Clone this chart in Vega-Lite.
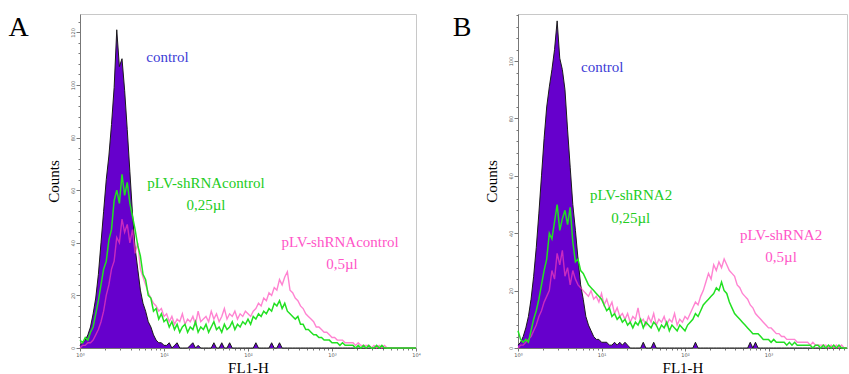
{
  "$schema": "https://vega.github.io/schema/vega-lite/v6.json",
  "padding": {"left": 8, "top": 13, "right": 0, "bottom": 0},
  "spacing": 31,
  "config": {
    "view": {"stroke": "#c8c8c8"},
    "axis": {
      "grid": false,
      "domainColor": "#777",
      "tickColor": "#777",
      "labelFont": "DejaVu Sans",
      "labelFontSize": 5,
      "labelColor": "#555",
      "labelOverlap": false,
      "labelFlush": false,
      "labelPadding": 1,
      "titleFont": "Liberation Serif",
      "titleFontSize": 15,
      "titleFontWeight": "normal",
      "titleColor": "#000"
    },
    "title": {"font": "Liberation Serif", "fontSize": 28, "fontWeight": "normal", "color": "#000"}
  },
  "datasets": {
    "a": [
      {"x":1,"c":1,"g":3,"p":0},{"x":1.0746,"c":2,"g":2,"p":1},{"x":1.1548,"c":3,"g":4,"p":1},{"x":1.2409,"c":5,"g":3,"p":2},
      {"x":1.3335,"c":8,"g":6,"p":2},{"x":1.433,"c":13,"g":8,"p":3},{"x":1.5399,"c":19,"g":13,"p":5},{"x":1.6548,"c":28,"g":18,"p":7},
      {"x":1.7783,"c":40,"g":24,"p":10},{"x":1.911,"c":52,"g":30,"p":14},{"x":2.0535,"c":64,"g":33,"p":20},{"x":2.2067,"c":73,"g":41,"p":24},
      {"x":2.3714,"c":85,"g":45,"p":30},{"x":2.5483,"c":99,"g":56,"p":33},{"x":2.7384,"c":121,"g":60,"p":42},{"x":2.9427,"c":107,"g":55,"p":40},
      {"x":3.1623,"c":110,"g":66,"p":49},{"x":3.3982,"c":98,"g":58,"p":44},{"x":3.6517,"c":83,"g":63,"p":47},{"x":3.9242,"c":67,"g":55,"p":40},
      {"x":4.217,"c":51,"g":50,"p":45},{"x":4.5316,"c":38,"g":45,"p":36},{"x":4.8697,"c":30,"g":39,"p":40},{"x":5.233,"c":22,"g":35,"p":30},
      {"x":5.6234,"c":17,"g":28,"p":27},{"x":6.043,"c":14,"g":26,"p":24},{"x":6.4938,"c":10,"g":20,"p":21},{"x":6.9783,"c":8,"g":19,"p":19},
      {"x":7.4989,"c":5,"g":14,"p":17},{"x":8.0584,"c":3,"g":15,"p":16},{"x":8.6596,"c":2,"g":11,"p":14},{"x":9.3057,"c":2,"g":13,"p":15},
      {"x":10,"c":1,"g":10,"p":12},{"x":10.746,"c":1,"g":11,"p":13},{"x":11.548,"c":2,"g":8,"p":10},{"x":12.409,"c":0,"g":10,"p":12},
      {"x":13.335,"c":1,"g":7,"p":9},{"x":14.33,"c":2,"g":9,"p":11},{"x":15.399,"c":0,"g":6,"p":10},{"x":16.548,"c":0,"g":8,"p":13},
      {"x":17.783,"c":0,"g":9,"p":9},{"x":19.11,"c":0,"g":6,"p":11},{"x":20.535,"c":1,"g":8,"p":10},{"x":22.067,"c":2,"g":7,"p":12},
      {"x":23.714,"c":0,"g":10,"p":9},{"x":25.483,"c":1,"g":6,"p":14},{"x":27.384,"c":0,"g":8,"p":10},{"x":29.427,"c":0,"g":7,"p":11},
      {"x":31.623,"c":0,"g":9,"p":12},{"x":33.982,"c":0,"g":6,"p":10},{"x":36.517,"c":0,"g":8,"p":14},{"x":39.242,"c":2,"g":10,"p":11},
      {"x":42.17,"c":0,"g":7,"p":13},{"x":45.316,"c":0,"g":8,"p":10},{"x":48.697,"c":2,"g":6,"p":12},{"x":52.33,"c":0,"g":9,"p":15},
      {"x":56.234,"c":0,"g":7,"p":11},{"x":60.43,"c":2,"g":8,"p":13},{"x":64.938,"c":0,"g":10,"p":12},{"x":69.783,"c":0,"g":7,"p":14},
      {"x":74.989,"c":0,"g":9,"p":11},{"x":80.584,"c":0,"g":8,"p":13},{"x":86.596,"c":0,"g":10,"p":12},{"x":93.057,"c":0,"g":9,"p":14},
      {"x":100,"c":0,"g":11,"p":13},{"x":107.46,"c":0,"g":9,"p":12},{"x":115.48,"c":0,"g":12,"p":14},{"x":124.09,"c":2,"g":11,"p":15},
      {"x":133.35,"c":0,"g":13,"p":17},{"x":143.3,"c":0,"g":12,"p":16},{"x":153.99,"c":0,"g":14,"p":19},{"x":165.48,"c":0,"g":13,"p":18},
      {"x":177.83,"c":0,"g":15,"p":21},{"x":191.1,"c":2,"g":14,"p":20},{"x":205.35,"c":0,"g":17,"p":23},{"x":220.67,"c":0,"g":16,"p":22},
      {"x":237.14,"c":2,"g":18,"p":26},{"x":254.83,"c":0,"g":15,"p":24},{"x":273.84,"c":0,"g":17,"p":27},{"x":294.27,"c":0,"g":14,"p":29},
      {"x":316.23,"c":0,"g":13,"p":22},{"x":339.82,"c":0,"g":12,"p":21},{"x":365.17,"c":0,"g":11,"p":19},{"x":392.42,"c":0,"g":12,"p":18},
      {"x":421.7,"c":0,"g":9,"p":16},{"x":453.16,"c":0,"g":9,"p":15},{"x":486.97,"c":0,"g":7,"p":13},{"x":523.3,"c":0,"g":7,"p":12},
      {"x":562.34,"c":0,"g":6,"p":11},{"x":604.3,"c":0,"g":5,"p":10},{"x":649.38,"c":0,"g":5,"p":8},{"x":697.83,"c":0,"g":4,"p":8},
      {"x":749.89,"c":0,"g":4,"p":7},{"x":805.84,"c":0,"g":3,"p":6},{"x":865.96,"c":0,"g":3,"p":6},{"x":930.57,"c":0,"g":3,"p":5},
      {"x":1000,"c":0,"g":2,"p":4},{"x":1074.6,"c":0,"g":2,"p":4},{"x":1154.8,"c":0,"g":2,"p":3},{"x":1240.9,"c":0,"g":1,"p":3},
      {"x":1333.5,"c":0,"g":2,"p":3},{"x":1433,"c":0,"g":1,"p":2},{"x":1539.9,"c":0,"g":1,"p":2},{"x":1654.8,"c":0,"g":1,"p":2},
      {"x":1778.3,"c":0,"g":1,"p":2},{"x":1911,"c":0,"g":0,"p":1},{"x":2053.5,"c":0,"g":1,"p":2},{"x":2206.7,"c":0,"g":0,"p":1},
      {"x":2371.4,"c":0,"g":1,"p":1},{"x":2548.3,"c":0,"g":0,"p":1},{"x":2738.4,"c":0,"g":1,"p":1},{"x":2942.7,"c":0,"g":0,"p":0},
      {"x":3162.3,"c":0,"g":0,"p":1},{"x":3398.2,"c":0,"g":1,"p":0},{"x":3651.7,"c":0,"g":0,"p":1},{"x":3924.2,"c":0,"g":1,"p":0},
      {"x":4217,"c":0,"g":0,"p":1},{"x":4531.6,"c":0,"g":0,"p":0},{"x":4869.7,"c":0,"g":0,"p":0},{"x":5233,"c":0,"g":0,"p":0},
      {"x":5623.4,"c":0,"g":0,"p":0},{"x":6043,"c":0,"g":0,"p":0},{"x":6493.8,"c":0,"g":0,"p":0},{"x":6978.3,"c":0,"g":0,"p":0},
      {"x":7498.9,"c":0,"g":0,"p":0},{"x":8058.4,"c":0,"g":0,"p":0},{"x":8659.6,"c":0,"g":0,"p":0},{"x":9305.7,"c":0,"g":0,"p":0},
      {"x":10000,"c":0,"g":0,"p":0}
    ],
    "b": [
      {"x":1,"c":1,"g":6,"p":0},{"x":1.0746,"c":2,"g":3,"p":1},{"x":1.1548,"c":4,"g":2,"p":1},{"x":1.2409,"c":7,"g":3,"p":2},
      {"x":1.3335,"c":11,"g":2,"p":3},{"x":1.433,"c":17,"g":6,"p":4},{"x":1.5399,"c":25,"g":10,"p":6},{"x":1.6548,"c":35,"g":13,"p":8},
      {"x":1.7783,"c":47,"g":17,"p":11},{"x":1.911,"c":60,"g":22,"p":13},{"x":2.0535,"c":73,"g":27,"p":16},{"x":2.2067,"c":84,"g":31,"p":18},
      {"x":2.3714,"c":91,"g":40,"p":20},{"x":2.5483,"c":97,"g":38,"p":27},{"x":2.7384,"c":104,"g":44,"p":24},{"x":2.9427,"c":114,"g":50,"p":33},
      {"x":3.1623,"c":101,"g":41,"p":29},{"x":3.3982,"c":97,"g":45,"p":34},{"x":3.6517,"c":90,"g":48,"p":25},{"x":3.9242,"c":76,"g":43,"p":28},
      {"x":4.217,"c":63,"g":49,"p":22},{"x":4.5316,"c":50,"g":37,"p":27},{"x":4.8697,"c":41,"g":30,"p":24},{"x":5.233,"c":31,"g":31,"p":22},
      {"x":5.6234,"c":22,"g":27,"p":21},{"x":6.043,"c":17,"g":26,"p":20},{"x":6.4938,"c":11,"g":24,"p":19},{"x":6.9783,"c":8,"g":22,"p":18},
      {"x":7.4989,"c":6,"g":21,"p":20},{"x":8.0584,"c":4,"g":20,"p":17},{"x":8.6596,"c":3,"g":19,"p":18},{"x":9.3057,"c":3,"g":18,"p":16},
      {"x":10,"c":2,"g":17,"p":19},{"x":10.746,"c":2,"g":15,"p":15},{"x":11.548,"c":2,"g":13,"p":17},{"x":12.409,"c":1,"g":14,"p":14},
      {"x":13.335,"c":1,"g":11,"p":16},{"x":14.33,"c":2,"g":12,"p":12},{"x":15.399,"c":1,"g":10,"p":14},{"x":16.548,"c":2,"g":11,"p":11},
      {"x":17.783,"c":1,"g":9,"p":12},{"x":19.11,"c":2,"g":10,"p":10},{"x":20.535,"c":1,"g":8,"p":12},{"x":22.067,"c":0,"g":9,"p":9},
      {"x":23.714,"c":0,"g":7,"p":11},{"x":25.483,"c":0,"g":9,"p":10},{"x":27.384,"c":0,"g":8,"p":14},{"x":29.427,"c":0,"g":10,"p":9},
      {"x":31.623,"c":2,"g":7,"p":10},{"x":33.982,"c":0,"g":9,"p":8},{"x":36.517,"c":0,"g":8,"p":11},{"x":39.242,"c":0,"g":7,"p":9},
      {"x":42.17,"c":2,"g":9,"p":12},{"x":45.316,"c":0,"g":8,"p":8},{"x":48.697,"c":0,"g":6,"p":10},{"x":52.33,"c":0,"g":8,"p":9},
      {"x":56.234,"c":0,"g":7,"p":11},{"x":60.43,"c":0,"g":9,"p":8},{"x":64.938,"c":0,"g":6,"p":10},{"x":69.783,"c":0,"g":8,"p":9},
      {"x":74.989,"c":0,"g":7,"p":12},{"x":80.584,"c":0,"g":6,"p":8},{"x":86.596,"c":0,"g":8,"p":10},{"x":93.057,"c":0,"g":7,"p":9},
      {"x":100,"c":0,"g":6,"p":11},{"x":107.46,"c":0,"g":8,"p":10},{"x":115.48,"c":0,"g":9,"p":12},{"x":124.09,"c":0,"g":10,"p":14},
      {"x":133.35,"c":2,"g":12,"p":16},{"x":143.3,"c":0,"g":11,"p":15},{"x":153.99,"c":0,"g":13,"p":18},{"x":165.48,"c":0,"g":15,"p":20},
      {"x":177.83,"c":0,"g":16,"p":23},{"x":191.1,"c":0,"g":17,"p":26},{"x":205.35,"c":0,"g":18,"p":24},{"x":220.67,"c":0,"g":19,"p":29},
      {"x":237.14,"c":0,"g":21,"p":27},{"x":254.83,"c":0,"g":20,"p":30},{"x":273.84,"c":0,"g":23,"p":28},{"x":294.27,"c":0,"g":20,"p":31},
      {"x":316.23,"c":0,"g":19,"p":29},{"x":339.82,"c":0,"g":16,"p":27},{"x":365.17,"c":0,"g":14,"p":26},{"x":392.42,"c":0,"g":12,"p":25},
      {"x":421.7,"c":0,"g":11,"p":22},{"x":453.16,"c":0,"g":10,"p":21},{"x":486.97,"c":0,"g":9,"p":19},{"x":523.3,"c":0,"g":8,"p":18},
      {"x":562.34,"c":0,"g":7,"p":17},{"x":604.3,"c":2,"g":6,"p":15},{"x":649.38,"c":0,"g":5,"p":14},{"x":697.83,"c":2,"g":5,"p":12},
      {"x":749.89,"c":0,"g":5,"p":11},{"x":805.84,"c":0,"g":4,"p":10},{"x":865.96,"c":0,"g":3,"p":9},{"x":930.57,"c":0,"g":3,"p":8},
      {"x":1000,"c":0,"g":3,"p":7},{"x":1074.6,"c":0,"g":2,"p":7},{"x":1154.8,"c":0,"g":3,"p":6},{"x":1240.9,"c":0,"g":2,"p":5},
      {"x":1333.5,"c":0,"g":2,"p":5},{"x":1433,"c":0,"g":2,"p":4},{"x":1539.9,"c":0,"g":2,"p":4},{"x":1654.8,"c":0,"g":1,"p":3},
      {"x":1778.3,"c":0,"g":2,"p":3},{"x":1911,"c":0,"g":1,"p":3},{"x":2053.5,"c":0,"g":2,"p":3},{"x":2206.7,"c":0,"g":1,"p":2},
      {"x":2371.4,"c":0,"g":1,"p":2},{"x":2548.3,"c":0,"g":1,"p":2},{"x":2738.4,"c":0,"g":1,"p":2},{"x":2942.7,"c":0,"g":1,"p":2},
      {"x":3162.3,"c":0,"g":1,"p":1},{"x":3398.2,"c":0,"g":0,"p":2},{"x":3651.7,"c":0,"g":1,"p":1},{"x":3924.2,"c":0,"g":1,"p":1},
      {"x":4217,"c":0,"g":0,"p":1},{"x":4531.6,"c":0,"g":1,"p":1},{"x":4869.7,"c":0,"g":0,"p":1},{"x":5233,"c":0,"g":1,"p":0},
      {"x":5623.4,"c":0,"g":0,"p":1},{"x":6043,"c":0,"g":1,"p":0},{"x":6493.8,"c":0,"g":0,"p":1},{"x":6978.3,"c":0,"g":1,"p":0},
      {"x":7498.9,"c":0,"g":0,"p":1},{"x":8058.4,"c":0,"g":0,"p":0},{"x":8659.6,"c":0,"g":0,"p":0}
    ],
    "la": [
      {"x":11.0,"y":110.6,"t":"control","s":"control"},
      {"x":31.6,"y":62.7,"t":"pLV-shRNAcontrol","s":"g"},
      {"x":31.6,"y":54.4,"t":"0,25µl","s":"g"},
      {"x":1245,"y":40.3,"t":"pLV-shRNAcontrol","s":"p"},
      {"x":1315,"y":31.9,"t":"0,5µl","s":"p"}
    ],
    "lb": [
      {"x":10.2,"y":97.9,"t":"control","s":"control"},
      {"x":22.6,"y":53.3,"t":"pLV-shRNA2","s":"g"},
      {"x":22.4,"y":45.3,"t":"0,25µl","s":"g"},
      {"x":1413,"y":39.4,"t":"pLV-shRNA2","s":"p"},
      {"x":1413,"y":31.7,"t":"0,5µl","s":"p"}
    ]
  },
  "hconcat": [
    {
      "width": 336,
      "height": 334,
      "title": {"text": "A", "orient": "left", "anchor": "end", "frame": "group", "angle": 0, "align": "right", "baseline": "top", "offset": -3},
      "data": {"name": "a"},
      "encoding": {
        "x": {
          "field": "x", "type": "quantitative", "title": "FL1-H",
          "scale": {"type": "log", "domain": [1, 10000], "nice": false},
          "axis": {
            "values": [1,2,3,4,5,6,7,8,9,10,20,30,40,50,60,70,80,90,100,200,300,400,500,600,700,800,900,1000,2000,3000,4000,5000,6000,7000,8000,9000,10000],
            "labelExpr": "datum.value == 1 ? '10⁰' : datum.value == 10 ? '10¹' : datum.value == 100 ? '10²' : datum.value == 1000 ? '10³' : datum.value == 10000 ? '10⁴' : ''",
            "tickSize": {"condition": {"test": "indexof([1,10,100,1000,10000], datum.value) >= 0", "value": 3}, "value": 2},
            "labelOverlap": false,
            "titlePadding": 3
          }
        }
      },
      "layer": [
        {"mark": {"type": "area", "color": "#6600cc", "opacity": 1},
         "encoding": {"y": {"field": "c", "type": "quantitative", "title": "Counts",
           "scale": {"domain": [0, 127], "nice": false},
           "axis": {"values": [0,4,8,12,16,20,24,28,32,36,40,44,48,52,56,60,64,68,72,76,80,84,88,92,96,100,104,108,112,116,120,124],
             "labelExpr": "datum.value % 20 == 0 ? datum.label : ''",
             "tickSize": {"condition": {"test": "datum.value % 20 == 0", "value": 4}, "value": 2},
             "labelAngle": -90, "labelOverlap": false, "titlePadding": 9}}}},
        {"mark": {"type": "line", "color": "#1a1a1a", "strokeWidth": 1},
         "encoding": {"y": {"field": "c", "type": "quantitative", "title": "Counts",
           "scale": {"domain": [0, 127], "nice": false},
           "axis": {"values": [0,4,8,12,16,20,24,28,32,36,40,44,48,52,56,60,64,68,72,76,80,84,88,92,96,100,104,108,112,116,120,124],
             "labelExpr": "datum.value % 20 == 0 ? datum.label : ''",
             "tickSize": {"condition": {"test": "datum.value % 20 == 0", "value": 4}, "value": 2},
             "labelAngle": -90, "labelOverlap": false, "titlePadding": 9}}}},
        {"mark": {"type": "line", "color": "#ff40b8", "opacity": 0.65, "strokeWidth": 1.4},
         "encoding": {"y": {"field": "p", "type": "quantitative", "title": "Counts",
           "scale": {"domain": [0, 127], "nice": false},
           "axis": {"values": [0,4,8,12,16,20,24,28,32,36,40,44,48,52,56,60,64,68,72,76,80,84,88,92,96,100,104,108,112,116,120,124],
             "labelExpr": "datum.value % 20 == 0 ? datum.label : ''",
             "tickSize": {"condition": {"test": "datum.value % 20 == 0", "value": 4}, "value": 2},
             "labelAngle": -90, "labelOverlap": false, "titlePadding": 9}}}},
        {"mark": {"type": "line", "color": "#22e022", "strokeWidth": 1.5},
         "encoding": {"y": {"field": "g", "type": "quantitative", "title": "Counts",
           "scale": {"domain": [0, 127], "nice": false},
           "axis": {"values": [0,4,8,12,16,20,24,28,32,36,40,44,48,52,56,60,64,68,72,76,80,84,88,92,96,100,104,108,112,116,120,124],
             "labelExpr": "datum.value % 20 == 0 ? datum.label : ''",
             "tickSize": {"condition": {"test": "datum.value % 20 == 0", "value": 4}, "value": 2},
             "labelAngle": -90, "labelOverlap": false, "titlePadding": 9}}}},
        {"data": {"name": "la"},
         "mark": {"type": "text", "font": "Liberation Serif", "fontSize": 15, "baseline": "middle", "align": "center"},
         "encoding": {
           "y": {"field": "y", "type": "quantitative", "title": "Counts",
             "scale": {"domain": [0, 127], "nice": false},
             "axis": {"values": [0,4,8,12,16,20,24,28,32,36,40,44,48,52,56,60,64,68,72,76,80,84,88,92,96,100,104,108,112,116,120,124],
               "labelExpr": "datum.value % 20 == 0 ? datum.label : ''",
               "tickSize": {"condition": {"test": "datum.value % 20 == 0", "value": 4}, "value": 2},
               "labelAngle": -90, "labelOverlap": false, "titlePadding": 9}},
           "text": {"field": "t"},
           "color": {"field": "s", "type": "nominal", "legend": null,
             "scale": {"domain": ["control", "g", "p"], "range": ["#3c3cd6", "#22cc22", "#ff55c8"]}}
         }}
      ]
    },
    {
      "width": 329,
      "height": 334,
      "title": {"text": "B", "orient": "left", "anchor": "end", "frame": "group", "angle": 0, "align": "right", "baseline": "top", "offset": -6},
      "data": {"name": "b"},
      "encoding": {
        "x": {
          "field": "x", "type": "quantitative", "title": "FL1-H",
          "scale": {"type": "log", "domain": [1, 8710], "nice": false},
          "axis": {
            "values": [1,2,3,4,5,6,7,8,9,10,20,30,40,50,60,70,80,90,100,200,300,400,500,600,700,800,900,1000,2000,3000,4000,5000,6000,7000,8000],
            "labelExpr": "datum.value == 1 ? '10⁰' : datum.value == 10 ? '10¹' : datum.value == 100 ? '10²' : datum.value == 1000 ? '10³' : ''",
            "tickSize": {"condition": {"test": "indexof([1,10,100,1000,10000], datum.value) >= 0", "value": 3}, "value": 2},
            "labelOverlap": false,
            "titlePadding": 3
          }
        }
      },
      "layer": [
        {"mark": {"type": "area", "color": "#6600cc", "opacity": 1},
         "encoding": {"y": {"field": "c", "type": "quantitative", "title": "Counts",
           "scale": {"domain": [0, 116.4], "nice": false},
           "axis": {"values": [0,4,8,12,16,20,24,28,32,36,40,44,48,52,56,60,64,68,72,76,80,84,88,92,96,100,104,108,112,116],
             "labelExpr": "datum.value % 20 == 0 ? datum.label : ''",
             "tickSize": {"condition": {"test": "datum.value % 20 == 0", "value": 4}, "value": 2},
             "labelAngle": -90, "labelOverlap": false, "titlePadding": 9}}}},
        {"mark": {"type": "line", "color": "#1a1a1a", "strokeWidth": 1},
         "encoding": {"y": {"field": "c", "type": "quantitative", "title": "Counts",
           "scale": {"domain": [0, 116.4], "nice": false},
           "axis": {"values": [0,4,8,12,16,20,24,28,32,36,40,44,48,52,56,60,64,68,72,76,80,84,88,92,96,100,104,108,112,116],
             "labelExpr": "datum.value % 20 == 0 ? datum.label : ''",
             "tickSize": {"condition": {"test": "datum.value % 20 == 0", "value": 4}, "value": 2},
             "labelAngle": -90, "labelOverlap": false, "titlePadding": 9}}}},
        {"mark": {"type": "line", "color": "#ff40b8", "opacity": 0.65, "strokeWidth": 1.4},
         "encoding": {"y": {"field": "p", "type": "quantitative", "title": "Counts",
           "scale": {"domain": [0, 116.4], "nice": false},
           "axis": {"values": [0,4,8,12,16,20,24,28,32,36,40,44,48,52,56,60,64,68,72,76,80,84,88,92,96,100,104,108,112,116],
             "labelExpr": "datum.value % 20 == 0 ? datum.label : ''",
             "tickSize": {"condition": {"test": "datum.value % 20 == 0", "value": 4}, "value": 2},
             "labelAngle": -90, "labelOverlap": false, "titlePadding": 9}}}},
        {"mark": {"type": "line", "color": "#22e022", "strokeWidth": 1.5},
         "encoding": {"y": {"field": "g", "type": "quantitative", "title": "Counts",
           "scale": {"domain": [0, 116.4], "nice": false},
           "axis": {"values": [0,4,8,12,16,20,24,28,32,36,40,44,48,52,56,60,64,68,72,76,80,84,88,92,96,100,104,108,112,116],
             "labelExpr": "datum.value % 20 == 0 ? datum.label : ''",
             "tickSize": {"condition": {"test": "datum.value % 20 == 0", "value": 4}, "value": 2},
             "labelAngle": -90, "labelOverlap": false, "titlePadding": 9}}}},
        {"data": {"name": "lb"},
         "mark": {"type": "text", "font": "Liberation Serif", "fontSize": 15, "baseline": "middle", "align": "center"},
         "encoding": {
           "y": {"field": "y", "type": "quantitative", "title": "Counts",
             "scale": {"domain": [0, 116.4], "nice": false},
             "axis": {"values": [0,4,8,12,16,20,24,28,32,36,40,44,48,52,56,60,64,68,72,76,80,84,88,92,96,100,104,108,112,116],
               "labelExpr": "datum.value % 20 == 0 ? datum.label : ''",
               "tickSize": {"condition": {"test": "datum.value % 20 == 0", "value": 4}, "value": 2},
               "labelAngle": -90, "labelOverlap": false, "titlePadding": 9}},
           "text": {"field": "t"},
           "color": {"field": "s", "type": "nominal", "legend": null,
             "scale": {"domain": ["control", "g", "p"], "range": ["#3c3cd6", "#22cc22", "#ff55c8"]}}
         }}
      ]
    }
  ]
}
